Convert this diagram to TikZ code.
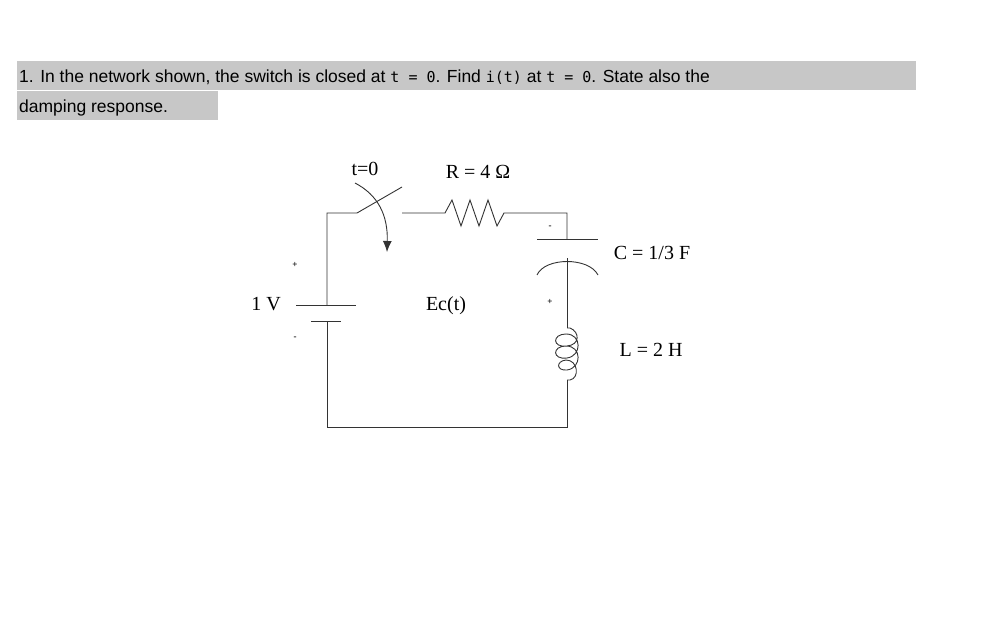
\documentclass[tikz,border=0pt]{standalone}
\usepackage{fontspec}
\setmainfont{Liberation Serif}
\newfontfamily\ssf{Liberation Sans}
\newfontfamily\mth{DejaVu Sans Mono}
\usetikzlibrary{arrows.meta}
\begin{document}
\begin{tikzpicture}[x=1pt,y=-1pt,
  wire/.style={draw=black!80,line width=0.9pt},
  lbl/.style={font=\fontsize{20}{22}\selectfont,inner sep=0pt},
  sgn/.style={font=\fontsize{9}{9}\selectfont\bfseries,inner sep=0pt},
  ttl/.style={font=\ssf\fontsize{17.5}{20}\selectfont,inner sep=0pt,anchor=base west}]
\useasboundingbox (0,0) rectangle (983,642);
\fill[black!22] (17,61) rectangle (916,90);
\fill[black!22] (17,91) rectangle (218,120);
\node[ttl] (l1) at (19,82) {1. In the network shown, the switch is closed at {\mth\fontsize{15}{17}\selectfont t = 0}. Find {\mth\fontsize{15}{17}\selectfont i(t)} at {\mth\fontsize{15}{17}\selectfont t = 0}. State also the};
\node[ttl] (l2) at (19,113) {damping response.};
% coordinates
\coordinate (tl) at (327,213);
\coordinate (bl) at (327,427);
\coordinate (br) at (567,427);
\coordinate (tr) at (567,213);
\coordinate (sw1) at (357,213);
\coordinate (sw2) at (402,187);
\coordinate (sw3) at (402,213);
\coordinate (r1) at (445,213);
\coordinate (r2) at (513,213);
\coordinate (b1) at (327,305);
\coordinate (b2) at (327,321);
\coordinate (c1) at (567,239);
\coordinate (c2) at (567,258);
\coordinate (l1a) at (567,328);
\coordinate (l2a) at (567,380);
% wires
\draw[wire] (b1) -- (tl) -- (sw1) -- (sw2);
\draw[wire] (sw3) -- (r1) -- ++(7,-13) -- ++(9,26) -- ++(9,-26) -- ++(9,26) -- ++(9,-26) -- ++(9,26) -- ++(7,-13) -- (r2) -- (tr) -- (c1);
\draw[wire] (b2) -- (bl) -- (br) -- (l2a);
\draw[wire] (c2) -- (l1a);
% battery
\draw[wire] (296,305) -- (356,305);
\draw[wire] (311,321) -- (341,321);
% capacitor
\draw[wire] (537,239) -- (598,239);
\draw[wire] (537,275) .. controls (545,257) and (589,257) .. (598,275);
% inductor
\draw[wire] (l1a) -- (570,328) .. controls (580,332) and (580,345) .. (567,346)
  .. controls (552,348) and (552,334) .. (566,334) .. controls (582,334) and (582,356) .. (567,358)
  .. controls (552,360) and (552,346) .. (566,346) .. controls (582,346) and (582,368) .. (567,370)
  .. controls (556,371) and (556,361) .. (566,360) .. controls (578,360) and (580,378) .. (570,380) -- (l2a);
% switch arrow
\draw[wire,-{Latex[length=11pt,width=9pt]}] (355,183) .. controls (378,195) and (388,215) .. (387,252);
% labels
\node[lbl] (t0) at (365,169) {t=0};
\node[lbl] (R) at (478,172) {R = 4 Ω};
\node[lbl] (C) at (652,253) {C = 1/3 F};
\node[lbl] (L) at (651,350) {L = 2 H};
\node[lbl] (V) at (266,304) {1 V};
\node[lbl] (E) at (446,306) {Ec(t)};
\node[sgn] (p1) at (295,265) {+};
\node[sgn] (m1) at (295,338) {-};
\node[sgn] (m2) at (550,227) {-};
\node[sgn] (p2) at (550,302) {+};
\end{tikzpicture}
\end{document}
